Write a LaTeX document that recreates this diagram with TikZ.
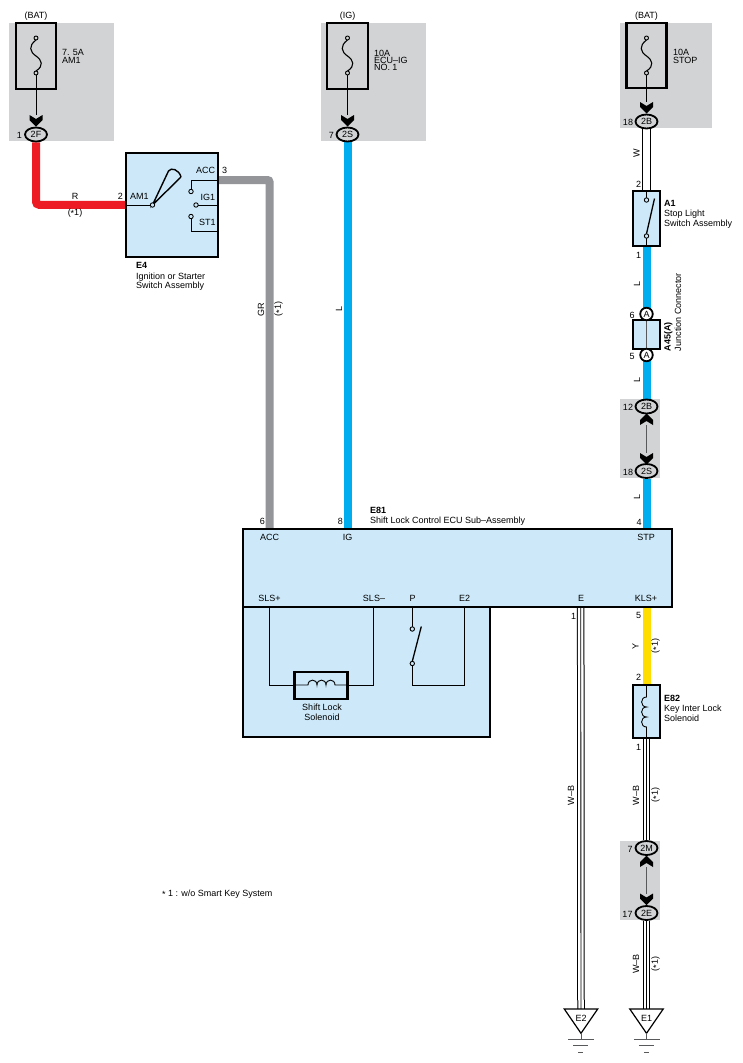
\documentclass[tikz,border=0pt]{standalone}
\usepackage{fontspec}
\setmainfont{Liberation Sans}
\usetikzlibrary{shapes.geometric}
\definecolor{bggrey}{HTML}{D1D3D4}
\definecolor{boxblue}{HTML}{CDE9F9}
\definecolor{wblue}{HTML}{00AEEF}
\definecolor{wred}{HTML}{ED1C24}
\definecolor{wgrey}{HTML}{939598}
\definecolor{wyel}{HTML}{FFDD00}
\definecolor{gline}{HTML}{58595B}
\pgfdeclarelayer{back}
\pgfdeclarelayer{wire}
\pgfsetlayers{back,wire,main}
\newcommand\myast{\raisebox{-0.18em}{*}}
\newcommand\fusesym[1]{%
  \draw[line width=1.1pt] (#1,40) .. controls (#1-8,46) and (#1-6,52) .. (#1,56)
     .. controls (#1+6,60) and (#1+8,66) .. (#1,71);
  \draw[line width=0.9pt, fill=bggrey] (#1,38) circle[radius=2pt] (#1,73) circle[radius=2pt];
}
\newcommand\dnchev[2]{\fill (#1-6.5,#2) -- (#1,#2+4) -- (#1+6.5,#2) -- (#1+6.5,#2+5) -- (#1,#2+11.5) -- (#1-6.5,#2+5) -- cycle;}
\newcommand\upchev[2]{\fill (#1-6.5,#2) -- (#1,#2-4) -- (#1+6.5,#2) -- (#1+6.5,#2-5) -- (#1,#2-11.5) -- (#1-6.5,#2-5) -- cycle;}
\newcommand\wbwire[2]{%
  \draw[line width=7.5pt] (#1) -- (#2);
  \draw[white, line width=5.5pt] (#1) -- (#2);
  \draw[line width=0.9pt] (#1) -- (#2);}
\begin{document}
\begin{tikzpicture}[x=1pt,y=-1pt,
  txt/.style={font=\fontsize{9}{8.5}\selectfont, inner sep=0pt, outer sep=0pt},
  bld/.style={font=\fontsize{9}{8.5}\selectfont\bfseries, inner sep=0pt, outer sep=0pt},
  conn/.style={ellipse, draw, line width=1.8pt, fill=bggrey, minimum width=22pt, minimum height=14pt, inner sep=0pt, font=\fontsize{9}{8.5}\selectfont},
  jconn/.style={circle, draw, line width=1.8pt, fill=white, minimum size=12.5pt, inner sep=0pt, font=\fontsize{9}{8.5}\selectfont},
  compbox/.style={draw, line width=2pt, fill=boxblue, inner sep=0pt, outer sep=0pt, anchor=north west},
  fusebox/.style={draw, line width=2.5pt, inner sep=0pt, outer sep=0pt, anchor=north west},
  hair/.style={line width=0.9pt},
  cwire/.style={line width=8pt},
  vlab/.style={txt, rotate=90},
  termb/.style={line width=0.9pt, fill=boxblue}
]
\useasboundingbox (0,0) rectangle (742,1063);

\begin{pgfonlayer}{back}
\fill[white] (0,0) rectangle (742,1063);
\fill[bggrey] (9,23) rectangle (114,141);
\fill[bggrey] (321,23) rectangle (426,141);
\fill[bggrey] (620,23) rectangle (712,128);
\fill[bggrey] (620,399) rectangle (660,478);
\fill[bggrey] (620,841) rectangle (660,920);
\end{pgfonlayer}

% ---------- Fuse 1 : AM1
\node[fusebox, minimum width=40pt, minimum height=66pt] (f1) at (16,23) {};
\node[txt, anchor=base] (f1src) at (36,18) {(BAT)};
\fusesym{36}
\node[txt, anchor=base west] (f1a) at (62,55) {7. 5A};
\node[txt, anchor=base west] (f1b) at (62,63.5) {AM1};
\draw[hair] (36,75) -- (36,115);
\dnchev{36}{115}
\node[conn] (c2F) at (36,134.5) {2F};
\node[txt, anchor=base east] (p2F) at (22,138) {1};

% ---------- Fuse 2 : ECU-IG
\node[fusebox, minimum width=41pt, minimum height=66pt] (f2) at (327,23) {};
\node[txt, anchor=base] (f2src) at (347.5,18) {(IG)};
\fusesym{347.5}
\node[txt, anchor=base west] (f2a) at (374,56) {10A};
\node[txt, anchor=base west] (f2b) at (374,63) {ECU--IG};
\node[txt, anchor=base west] (f2c) at (374,70) {NO. 1};
\draw[hair] (347.5,75) -- (347.5,115);
\dnchev{347.5}{115}
\node[conn] (c2S) at (347.5,134.5) {2S};
\node[txt, anchor=base east] (p2S) at (334,138) {7};

% ---------- Fuse 3 : STOP
\node[fusebox, minimum width=40pt, minimum height=65pt] (f3) at (626.5,23) {};
\node[txt, anchor=base] (f3src) at (646.5,18) {(BAT)};
\fusesym{646.5}
\node[txt, anchor=base west] (f3a) at (673,55) {10A};
\node[txt, anchor=base west] (f3b) at (673,63) {STOP};
\draw[hair] (646.5,75) -- (646.5,102);
\dnchev{646.5}{102}
\node[conn] (c2B) at (646.5,121.5) {2B};
\node[txt, anchor=base east] (p2B) at (633,125) {18};

% ---------- E4 ignition switch
\node[compbox, minimum width=92pt, minimum height=104.5pt] (e4) at (126,152.5) {};
\coordinate (e4acc) at (218,180);
\draw[hair] (126,205) -- (150.5,205);
\draw[line width=1.4pt] (168.5,171) -- (152.5,205) -- (181,177)
   (168.5,171) .. controls (171,167) and (179,169.5) .. (181,177);
\draw[termb] (152.5,205) circle[radius=2.2pt];
\draw[hair] (191,189.5) -- (191,180) -- (218,180);
\draw[termb] (191,191.5) circle[radius=2.2pt];
\draw[hair] (198.2,205) -- (218,205);
\draw[termb] (196,205) circle[radius=2.2pt];
\draw[hair] (191,218.7) -- (191,231.5) -- (218,231.5);
\draw[termb] (191,216.5) circle[radius=2.2pt];
\node[txt, anchor=base east] (e4p2) at (123,199.5) {2};
\node[txt, anchor=base west] (e4am) at (130,199.5) {AM1};
\node[txt, anchor=base west] (e4ac) at (196,173) {ACC};
\node[txt, anchor=base west] (e4p3) at (222,173) {3};
\node[txt, anchor=base west] (e4ig) at (200.5,200) {IG1};
\node[txt, anchor=base west] (e4st) at (199,225) {ST1};
\node[bld, anchor=base west] (e4n) at (136,268) {E4};
\node[txt, anchor=base west] (e4d1) at (136,279) {Ignition or Starter};
\node[txt, anchor=base west] (e4d2) at (136,288) {Switch Assembly};

% ---------- A1 stop light switch
\node[compbox, minimum width=27pt, minimum height=55pt] (a1) at (633,190.5) {};
\draw[hair] (646.5,190.5) -- (646.5,197.8) (646.5,238.2) -- (646.5,245.5);
\draw[line width=1.3pt] (646.5,233.8) -- (654.5,198.5);
\draw[termb] (646.5,200) circle[radius=2.2pt] (646.5,236) circle[radius=2.2pt];
\node[txt, anchor=base east] (a1p2) at (641,187) {2};
\node[txt, anchor=base east] (a1p1) at (641,258) {1};
\node[bld, anchor=base west] (a1n) at (664,206.5) {A1};
\node[txt, anchor=base west] (a1d1) at (664,216) {Stop Light};
\node[txt, anchor=base west] (a1d2) at (664,226) {Switch Assembly};

% ---------- A45 junction connector
\node[compbox, line width=2.5pt, minimum width=27pt, minimum height=29pt] (a45) at (633,320) {};
\draw[gline, line width=1pt] (646.5,320) -- (646.5,349);
\node[jconn] (jA6) at (646.5,314) {A};
\node[jconn] (jA5) at (646.5,355) {A};
\node[txt, anchor=base east] (jp6) at (634.5,318) {6};
\node[txt, anchor=base east] (jp5) at (634.5,359) {5};
\node[bld, rotate=90, anchor=base west] (a45n) at (670.5,351) {A45(A)};
\node[txt, rotate=90, anchor=base west] (a45d) at (681,351) {Junction Connector};

% ---------- inline connector 2B/2S
\node[conn] (c2B12) at (646.5,406.5) {2B};
\node[txt, anchor=base east] (p12) at (633,410.5) {12};
\upchev{646.5}{425}
\draw[gline, line width=1pt] (646.5,425) -- (646.5,453);
\dnchev{646.5}{453}
\node[conn] (c2S18) at (646.5,471) {2S};
\node[txt, anchor=base east] (p18) at (633,475) {18};

% ---------- E81 ECU
\node[compbox, line width=2.5pt, minimum width=247pt, minimum height=130pt] (ecul) at (243,607) {};
\node[compbox, line width=2.5pt, minimum width=429pt, minimum height=78pt] (ecu) at (243,529) {};
\coordinate (ecuACC) at (269.5,529);
\coordinate (ecuIG) at (347.5,529);
\coordinate (ecuSTP) at (646.5,529);
\coordinate (ecuE) at (580.7,607);
\coordinate (ecuKLS) at (646.5,607);
\node[bld, anchor=base west] (e81n) at (370,513) {E81};
\node[txt, anchor=base west] (e81d) at (370,523.5) {Shift Lock Control ECU Sub--Assembly};
\node[txt, anchor=base east] (ep6) at (265,524) {6};
\node[txt, anchor=base east] (ep8) at (343,524) {8};
\node[txt, anchor=base east] (ep4) at (641.5,525) {4};
\node[txt, anchor=base] (eacc) at (269.5,540.7) {ACC};
\node[txt, anchor=base] (eig) at (347.5,540.7) {IG};
\node[txt, anchor=base] (estp) at (646,540.7) {STP};
\node[txt, anchor=base] (esp) at (269.5,601.7) {SLS+};
\node[txt, anchor=base] (esm) at (374,601.7) {SLS--};
\node[txt, anchor=base] (ep) at (412.5,601.7) {P};
\node[txt, anchor=base] (ee2) at (464.5,601.7) {E2};
\node[txt, anchor=base] (ee) at (581,601.7) {E};
\node[txt, anchor=base] (ekls) at (646,601.7) {KLS+};
% shift lock solenoid
\draw[hair] (269.3,607) -- (269.3,685) -- (294.5,685) (347.5,685) -- (373.3,685) -- (373.3,607);
\node[compbox, line width=2.2pt, minimum width=53pt, minimum height=27pt] (sol) at (294.5,672) {};
\draw[hair] (294.5,685) -- (308,685) .. controls (308,678.5) and (317,678.5) .. (317,685)
   .. controls (317,678.5) and (326,678.5) .. (326,685)
   .. controls (326,678.5) and (335,678.5) .. (335,685) -- (347.5,685);
\node[txt, anchor=base] (sold1) at (322,710) {Shift Lock};
\node[txt, anchor=base] (sold2) at (322,720) {Solenoid};
% P switch
\draw[hair] (412.3,607) -- (412.3,626.8) (412.3,665.7) -- (412.3,685) -- (464.3,685) -- (464.3,607);
\draw[line width=1.3pt] (412.3,661.3) -- (421.3,626.5);
\draw[termb] (412.3,629) circle[radius=2.2pt] (412.3,663.5) circle[radius=2.2pt];

% ---------- E82 key interlock solenoid
\node[compbox, minimum width=27pt, minimum height=53pt] (e82) at (633,684.5) {};
\draw[hair] (646.5,684.5) -- (646.5,697) .. controls (640,697) and (640,707) .. (646.5,707)
   .. controls (640,707) and (640,717) .. (646.5,717)
   .. controls (640,717) and (640,727) .. (646.5,727) -- (646.5,737.5);
\node[txt, anchor=base east] (kp5) at (641,618.7) {5};
\node[txt, anchor=base east] (kp2) at (641,680) {2};
\node[txt, anchor=base east] (kp1) at (641,750) {1};
\node[txt, anchor=base east] (ep1) at (576,619.3) {1};
\node[bld, anchor=base west] (e82n) at (664,701.7) {E82};
\node[txt, anchor=base west] (e82d1) at (664,711.7) {Key Inter Lock};
\node[txt, anchor=base west] (e82d2) at (664,721) {Solenoid};

% ---------- inline connector 2M/2E
\node[conn] (c2M) at (646.5,848) {2M};
\node[txt, anchor=base east] (p7) at (632.5,852) {7};
\upchev{646.5}{867}
\draw[gline, line width=1pt] (646.5,867) -- (646.5,893.5);
\dnchev{646.5}{893.5}
\node[conn] (c2E) at (646.5,913) {2E};
\node[txt, anchor=base east] (p17) at (632.5,917) {17};

% ---------- grounds
\draw[line width=1.2pt, fill=white] (564.3,1009) -- (597.7,1009) -- (581,1033.3) -- cycle;
\node[txt] (gE2) at (581,1018.5) {E2};
\coordinate (gE2top) at (581,1009);
\draw[gline, line width=1pt] (581,1033.3) -- (581,1039) (568.3,1039) -- (594,1039)
   (573.3,1045.7) -- (588.3,1045.7) (578.3,1052.3) -- (583.3,1052.3);
\draw[line width=1.2pt, fill=white] (629.8,1009) -- (663.2,1009) -- (646.5,1033.3) -- cycle;
\node[txt] (gE1) at (646.5,1018.5) {E1};
\coordinate (gE1top) at (646.5,1009);
\draw[gline, line width=1pt] (646.5,1033.3) -- (646.5,1039) (633.8,1039) -- (659.5,1039)
   (638.8,1045.7) -- (653.8,1045.7) (643.8,1052.3) -- (648.8,1052.3);

% ---------- wire labels
\node[txt, anchor=base] (lR) at (75,199.5) {R};
\node[txt, anchor=base] (lR1) at (75,215) {(\myast1)};
\node[vlab] (lGR) at (261,310) {GR};
\node[vlab] (lGR1) at (278.5,309) {(\myast1)};
\node[vlab] (lL1) at (339,309) {L};
\node[vlab] (lW) at (636.5,153.5) {W};
\node[vlab] (lL2) at (637,284) {L};
\node[vlab] (lL3) at (637,380) {L};
\node[vlab] (lL4) at (637,497) {L};
\node[vlab] (lY) at (635.5,646.5) {Y};
\node[vlab] (lY1) at (655.5,646) {(\myast1)};
\node[vlab] (lWB1) at (571,795.5) {W--B};
\node[vlab] (lWB2) at (636,795.5) {W--B};
\node[vlab] (lWB21) at (655.5,795) {(\myast1)};
\node[vlab] (lWB3) at (636,964) {W--B};
\node[vlab] (lWB31) at (655.5,964) {(\myast1)};
\node[txt, anchor=base west] (foot) at (162,896) {\myast\ 1 : w/o Smart Key System};

% ---------- wires
\begin{pgfonlayer}{wire}
\draw[cwire, wred, rounded corners=3pt] (c2F.south) |- (e4.west);
\draw[cwire, wgrey, rounded corners=2pt] (e4acc) -| (ecuACC);
\draw[cwire, wblue] (c2S.south) -- (ecuIG);
\draw[line width=8.5pt] (c2B.south) -- (a1.north -| c2B.south);
\draw[white, line width=6.5pt] (c2B.south) -- (a1.north -| c2B.south);
\draw[cwire, wblue] (a1.south -| c2B.south) -- (c2B12.north);
\draw[cwire, wblue] (c2S18.south) -- (ecuSTP);
\draw[cwire, wyel] (ecuKLS) -- (e82.north -| ecuKLS);
\coordinate (e82bot) at (646.5,737.5);
\wbwire{ecuE}{gE2top}
\wbwire{e82bot}{c2M.north}
\wbwire{c2E.south}{gE1top}
\end{pgfonlayer}
\end{tikzpicture}
\end{document}
